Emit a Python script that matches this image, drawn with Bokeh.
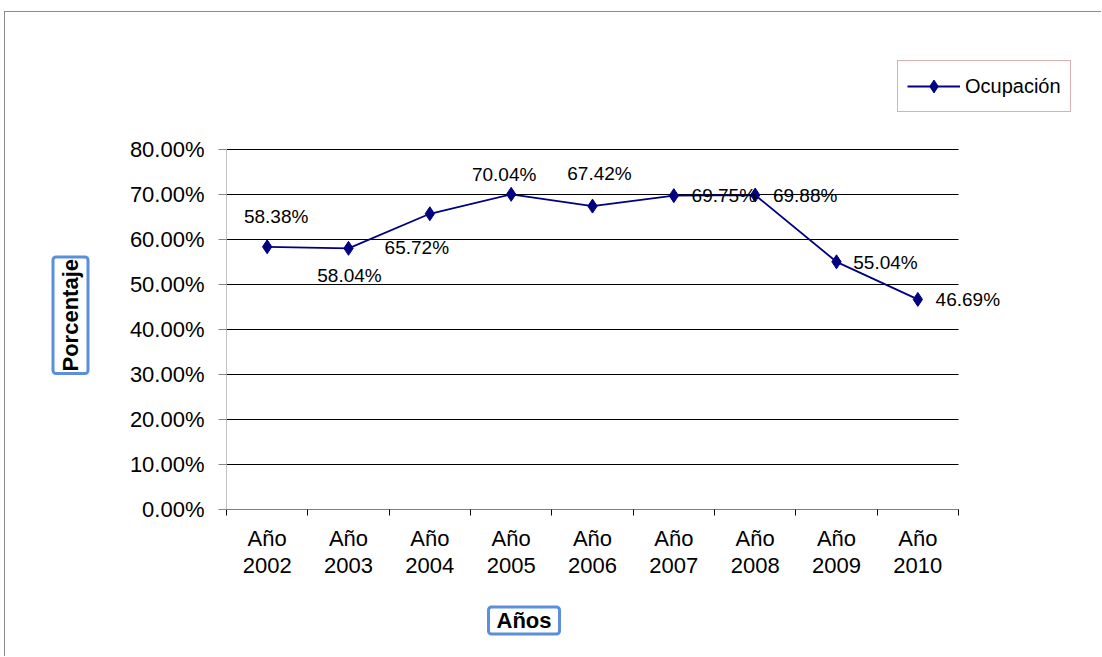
from bokeh.plotting import figure
from bokeh.models import (Range1d, FixedTicker, NumeralTickFormatter, Label, Legend,
                          LegendItem, Title)
from bokeh.embed import file_html
from bokeh.resources import INLINE

years = ["2002", "2003", "2004", "2005", "2006", "2007", "2008", "2009", "2010"]
ocupacion = [0.5838, 0.5804, 0.6572, 0.7004, 0.6742, 0.6975, 0.6988, 0.5504, 0.4669]
value_labels = ["58.38%", "58.04%", "65.72%", "70.04%", "67.42%", "69.75%", "69.88%", "55.04%", "46.69%"]
y_ticks = [0.0, 0.1, 0.2, 0.3, 0.4, 0.5, 0.6, 0.7, 0.8]
y_max = 0.8

# label placement (style): pixel offsets from each point
lab_dx = [9, 1, -13, -7, 7, 50, 50, 49, 50]
lab_dy = [30, -27, -34, 20, 33, 0, 0, -1, 0]

# page geometry (window pixels)
OX, OY = 5, 12                      # canvas origin inside the window (after border)
W, H = 1102 - OX, 657 - OY
FL, FB = 226 - OX, 509 - OY         # frame left / bottom in canvas pixels
n = len(years)
px_per_cat = (958 - 226) / n
px_per_unit = 360 / y_max
xs = list(range(n))

x_end = -0.5 + (W - FL) / px_per_cat
y_end = FB / px_per_unit

p = figure(width=W, height=H, output_backend="svg", toolbar_location=None,
           x_range=Range1d(-0.5, x_end), y_range=Range1d(0, y_end),
           min_border_left=FL, min_border_right=0, min_border_top=0,
           min_border_bottom=H - FB,
           styles={"margin-left": "4px", "margin-top": "11px",
                   "border-left": "1px solid #8c8c8c",
                   "border-top": "1px solid #8c8c8c"})
p.outline_line_color = None
p.background_fill_color = "white"
p.border_fill_color = "white"

# x axis
p.xaxis.ticker = FixedTicker(ticks=xs, minor_ticks=[i - 0.5 for i in range(n + 1)])
p.xaxis.major_label_overrides = {i: "Año\n" + y for i, y in enumerate(years)}
p.xaxis.major_tick_out = 0
p.xaxis.major_tick_in = 0
p.xaxis.minor_tick_out = 6
p.xaxis.minor_tick_in = 0
p.xaxis.minor_tick_line_color = "black"
p.xaxis.axis_line_color = None
p.xaxis.major_label_text_font = "Liberation Sans"
p.xaxis.major_label_text_font_size = "22px"
p.xaxis.major_label_text_color = "black"
p.xaxis.major_label_text_line_height = 1.1
p.xaxis.major_label_standoff = 10

# y axis
p.yaxis.ticker = FixedTicker(ticks=y_ticks)
p.yaxis.formatter = NumeralTickFormatter(format="0.00%")
p.yaxis.major_tick_out = 8
p.yaxis.major_tick_in = 0
p.yaxis.minor_tick_line_color = None
p.yaxis.axis_line_color = None
p.yaxis.major_tick_line_color = "#868686"
p.yaxis.major_label_text_font = "Liberation Sans"
p.yaxis.major_label_text_font_size = "22px"
p.yaxis.major_label_text_color = "black"
p.yaxis.major_label_standoff = 14

p.xgrid.grid_line_color = None
p.ygrid.grid_line_color = None

# axis lines and gridlines limited to the plot area
p.segment(x0=[-0.5] * (n - 1), x1=[n - 0.5] * (n - 1), y0=y_ticks[1:], y1=y_ticks[1:],
          line_color="black", line_width=1)
p.segment(x0=[-0.5], x1=[n - 0.5], y0=[0], y1=[0], line_color="black", line_width=1)
p.segment(x0=[-0.5], x1=[-0.5], y0=[0], y1=[y_max], line_color="#868686", line_width=1)

# data
ln = p.line(xs, ocupacion, line_color="#000080", line_width=1.8)
mk = p.scatter(xs, ocupacion, marker="diamond", size=14, fill_color="#000080",
               line_color="#000080")

for i in range(n):
    p.add_layout(Label(x=xs[i], y=ocupacion[i], text=value_labels[i],
                       x_offset=lab_dx[i], y_offset=lab_dy[i],
                       text_align="center", text_baseline="middle",
                       text_font="Liberation Sans", text_font_size="19px",
                       text_color="black"))

# legend (box 897..1070 x 62..112 in window pixels)
legend = Legend(items=[LegendItem(label="Ocupación", renderers=[ln, mk])],
                location=(897 - 226, 509 - 112),
                label_text_font="Liberation Sans", label_text_font_size="20px",
                label_text_color="black",
                border_line_color="#b36464", border_line_width=1,
                glyph_width=53, glyph_height=32, padding=9, margin=0, spacing=0,
                label_standoff=5, background_fill_alpha=1)
p.add_layout(legend, "center")

# boxed axis titles
t_y = Title(text="Porcentaje", align="left", offset=136, standoff=77,
            text_font="Liberation Sans", text_font_size="22px",
            text_font_style="bold", text_color="black",
            border_line_color="#5b8fd9", border_line_width=3,
            background_fill_color="white", padding=(2, 5), border_radius=3)
p.add_layout(t_y, "left")
t_x = Title(text="Años", align="left", offset=262, standoff=47,
            text_font="Liberation Sans", text_font_size="22px",
            text_font_style="bold", text_color="black",
            border_line_color="#5b8fd9", border_line_width=3,
            background_fill_color="white", padding=(8, 1), border_radius=3)
p.add_layout(t_x, "below")

open("out.html", "w").write(file_html(p, INLINE))
